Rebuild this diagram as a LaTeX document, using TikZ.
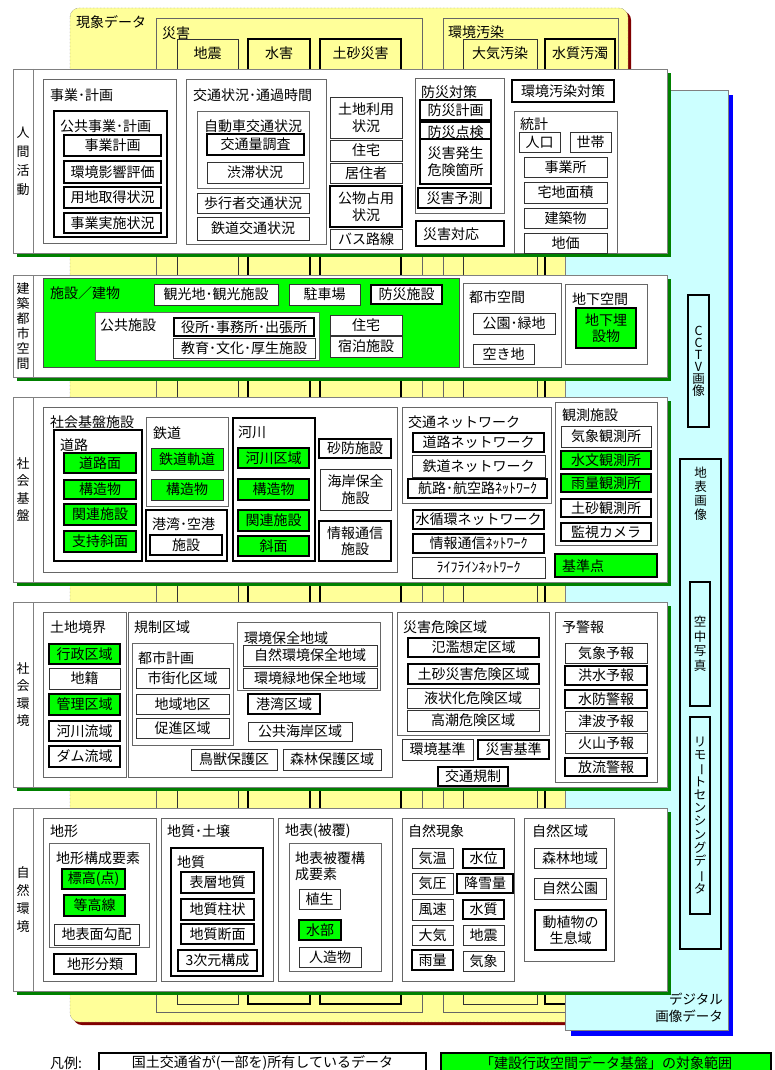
\documentclass[tikz,border=0pt]{standalone}
\usepackage{fontspec}
\setmainfont{Noto Sans CJK JP}
\usepackage{tikz}

\definecolor{kiiro}{HTML}{FFFF99}
\definecolor{mizuiro}{HTML}{CCFFFF}
\definecolor{midori}{HTML}{00FF00}
\definecolor{kage}{HTML}{008000}
\definecolor{akakage}{HTML}{800000}
\definecolor{aokage}{HTML}{0000FF}

\begin{document}
\begin{tikzpicture}[x=1pt, y=-1pt,
    font=\fontsize{14}{16.5}\selectfont,
    panel/.style={draw=gray, fill=white, line width=0.8pt},
    grp/.style={draw=black!60, fill=white, line width=0.8pt},
    grpb/.style={draw=black, fill=white, line width=2.8pt},
    cell/.style={draw=black!80, fill=white, line width=0.9pt},
    cellb/.style={draw=black, fill=white, line width=2.8pt},
    cellg/.style={cell, fill=midori},
    cellbg/.style={cellb, fill=midori},
    lbl/.style={anchor=west, inner sep=0pt},
    tate/.style={align=center, inner sep=0pt}
  ]
  \fill[white] (0,0) rectangle (775,1070);
  \useasboundingbox (0,0) rectangle (775,1070);

  % 現象データ (back layer)
  \fill[akakage, rounded corners=9pt] (73,11) rectangle (631,1025);
  \draw[densely dotted, draw=black!70, fill=kiiro, rounded corners=9pt] (70,8) rectangle (628,1022);
  \node[lbl] (gensho) at (76,22) {現象データ};
  \draw[grp, fill=kiiro] (156,18) rectangle (422,1012);
  \node[lbl] (saigai) at (162,33) {災害};
  \draw[grp, fill=kiiro] (443,18) rectangle (618,1012);
  \node[lbl] (osen) at (448,32) {環境汚染};
  \foreach \xa/\xb/\sty/\txt [count=\i] in {177/238/cell/地震, 248/310/cellb/水害, 320/401/cellb/土砂災害, 463/537/cell/大気汚染, 545/615/cellb/水質汚濁} {
    \draw[\sty, fill=kiiro] (\xa,39) rectangle (\xb,1004);
    \node (gen\i) at ({(\xa+\xb)/2},53) {\txt};
  }

  % デジタル画像データ
  \fill[aokage] (571,95) rectangle (733,1036);
  \draw[draw=gray, fill=mizuiro, line width=0.8pt] (565,90) rectangle (728,1030);
  \draw[cellb, fill=mizuiro] (688,295) rectangle (709,427)
    node[midway, tate, font=\fontsize{12.5}{12}\selectfont] (cctv) {C\\C\\T\\V\\画\\像};
  \draw[cellb, fill=mizuiro, line width=2.2pt] (680,459) rectangle (721,949);
  \node[tate, font=\fontsize{12.5}{14}\selectfont] (chihyo) at (700.5,494) {地\\表\\画\\像};
  \draw[cellb, fill=mizuiro] (690,582) rectangle (710,706)
    node[midway, tate, font=\fontsize{12.5}{14.5}\selectfont] (kuchu) {空\\中\\写\\真};
  \draw[cellb, fill=mizuiro] (690,717) rectangle (710,914)
    node[midway, tate, font=\fontsize{12.5}{13.3}\selectfont] (rimosen)
    {リ\\モ\\\rotatebox[origin=c]{-90}{ー}\\ト\\セ\\ン\\シ\\ン\\グ\\デ\\\rotatebox[origin=c]{-90}{ー}\\タ};
  \node[anchor=east, align=right, inner sep=0pt, font=\fontsize{13.5}{17}\selectfont] (dejitaru) at (723,1008) {デジタル\\画像データ};

  % panels
  \foreach \ya/\yb/\txt/\sk [count=\i] in {69/253/{人\\間\\活\\動}/19, 275/377/{建\\築\\都\\市\\空\\間}/15,
      397/582/{社\\会\\基\\盤}/17.5, 602/787/{社\\会\\環\\境}/17.5, 808/991/{自\\然\\環\\境}/18} {
    \fill[kage] (17,\ya+4) rectangle (671,\yb+4);
    \draw[panel] (13,\ya) rectangle (667,\yb);
    \draw[panel] (33,\ya) -- (33,\yb);
    \node[tate, font=\fontsize{13}{\sk}\selectfont] (bu\i) at (23,{(\ya+\yb)/2}) {\txt};
  }

  % 人間活動
  \draw[grp] (43,79) rectangle (176,243);
  \node[lbl] (jigyo) at (50,95) {事業･計画};
  \draw[grpb] (54,111) rectangle (167,237);
  \node[lbl] (kokyo) at (60,126) {公共事業･計画};
  \foreach \ya/\yb/\txt [count=\i] in {135/156/事業計画, 161/183/環境影響評価, 187/208/用地取得状況, 213/233/事業実施状況}
    \draw[cellb] (64,\ya) rectangle (161,\yb) node[midway] (kj\i) {\txt};
  \draw[grp] (186,79) rectangle (326,244);
  \node[lbl] (kotsu) at (193,95) {交通状況･通過時間};
  \draw[grp] (197,111) rectangle (309,188);
  \node (jidosha) at (253,126) {自動車交通状況};
  \draw[cellb] (207,134) rectangle (304,155) node[midway] (koryo) {交通量調査};
  \draw[cell] (207,162) rectangle (303,183) node[midway] (jutai) {渋滞状況};
  \draw[cell] (197,193) rectangle (309,213) node[midway] (hoko) {歩行者交通状況};
  \draw[cell] (197,217) rectangle (309,240) node[midway] (tetsukotsu) {鉄道交通状況};
  \foreach \ya/\yb/\sty/\txt [count=\i] in {97/138/cell/{土地利用\\状況}, 140/161/cell/住宅, 163/183/cell/居住者,
      186/227/cellb/{公物占用\\状況}, 229/249/cell/バス路線}
    \draw[\sty] (330,\ya) rectangle (402,\yb) node[midway, align=center] (tc\i) {\txt};
  \draw[grp] (415,78) rectangle (504,213);
  \node[lbl] (bosai) at (421,92) {防災対策};
  \draw[cellb] (420,100) rectangle (491,120) node[midway] (bk1) {防災計画};
  \draw[cellb] (420,122) rectangle (491,142) node[midway] (bk2) {防災点検};
  \draw[cellb] (420,139) rectangle (491,184) node[midway, align=center] (bk3) {災害発生\\危険箇所};
  \draw[cellb] (418,188) rectangle (491,208) node[midway] (bk4) {災害予測};
  \draw[cellb] (416,221) rectangle (504,246);
  \node[lbl] (taio) at (423,234) {災害対応};
  \draw[cellb] (512,80) rectangle (614,102) node[midway] (kantai) {環境汚染対策};
  \draw[grp] (514,111) rectangle (617,253);
  \node[lbl] (tokei) at (520,124) {統計};
  \draw[cell] (519,132) rectangle (560,152) node[midway] (jinko) {人口};
  \draw[cell] (570,132) rectangle (611,152) node[midway] (setai) {世帯};
  \foreach \ya/\yb/\txt [count=\i] in {157/177/事業所, 182/203/宅地面積, 208/228/建築物, 233/253/地価}
    \draw[cell] (524,\ya) rectangle (607,\yb) node[midway] (tk\i) {\txt};

  % 建築都市空間
  \draw[draw=black!70, fill=midori, line width=0.8pt] (43,278) rectangle (459,367);
  \node[lbl] (tatemono) at (50,293) {施設／建物};
  \draw[cell] (154,284) rectangle (278,305) node[midway] (kanko) {観光地･観光施設};
  \draw[cell] (289,284) rectangle (360,305) node[midway] (chusha) {駐車場};
  \draw[cellb] (371,285) rectangle (442,304) node[midway] (bshisetsu) {防災施設};
  \draw[grp] (95,312) rectangle (319,360);
  \node[lbl] (koshi) at (100,325) {公共施設};
  \draw[cell] (173,338) rectangle (315,358) node[midway] (kyoiku) {教育･文化･厚生施設};
  \draw[cellb] (174,318) rectangle (314,336) node[midway] (yakusho) {役所･事務所･出張所};
  \draw[cell] (330,315) rectangle (402,335) node[midway] (jutaku) {住宅};
  \draw[cell] (330,336) rectangle (402,357) node[midway] (shukuhaku) {宿泊施設};
  \draw[grp] (463,283) rectangle (561,367);
  \node[lbl] (toshi) at (469,297) {都市空間};
  \draw[cell] (473,313) rectangle (555,334) node[midway] (koen) {公園･緑地};
  \draw[cell] (473,344) rectangle (534,364) node[midway] (akichi) {空き地};
  \draw[grp] (565,284) rectangle (647,364);
  \node[lbl] (chika) at (572,299) {地下空間};
  \draw[cellbg] (576,308) rectangle (636,348) node[midway, align=center] (maisetsu) {地下埋\\設物};

  % 社会基盤
  \draw[grp] (43,407) rectangle (397,572);
  \node[lbl] (kiban) at (50,422) {社会基盤施設};
  \draw[grpb] (54,430) rectangle (142,561);
  \node[lbl] (doro) at (60,445) {道路};
  \foreach \ya/\yb/\txt [count=\i] in {453/473/道路面, 480/499/構造物, 504/525/関連施設, 531/552/支持斜面}
    \draw[cellbg] (64,\ya) rectangle (136,\yb) node[midway] (dr\i) {\txt};
  \draw[grp] (146,417) rectangle (228,506);
  \node[lbl] (tetsudo) at (153,433) {鉄道};
  \draw[cellg] (151,448) rectangle (223,470) node[midway] (td1) {鉄道軌道};
  \draw[cellg] (151,479) rectangle (223,500) node[midway] (td2) {構造物};
  \draw[grpb] (146,510) rectangle (227,561);
  \node[lbl] (kowan) at (152,524) {港湾･空港};
  \draw[cellb] (150,535) rectangle (222,555) node[midway] (kw1) {施設};
  \draw[grpb] (233,418) rectangle (315,561);
  \node[lbl] (kasen) at (238,432) {河川};
  \foreach \ya/\yb/\txt [count=\i] in {448/468/河川区域, 479/500/構造物, 510/531/関連施設, 536/556/斜面}
    \draw[cellbg] (238,\ya) rectangle (309,\yb) node[midway] (ks\i) {\txt};
  \draw[cellb] (319,439) rectangle (391,458) node[midway] (sabo) {砂防施設};
  \draw[cell] (320,469) rectangle (391,510) node[midway, align=center] (kaigan) {海岸保全\\施設};
  \draw[cellb] (319,521) rectangle (391,561) node[midway, align=center] (joho) {情報通信\\施設};
  \draw[grp] (402,407) rectangle (551,503);
  \node[lbl] (network) at (408,422) {交通ネットワーク};
  \draw[cellb] (413,433) rectangle (544,452) node[midway] (nw1) {道路ネットワーク};
  \draw[cell] (412,455) rectangle (545,477) node[midway] (nw2) {鉄道ネットワーク};
  \draw[cellb] (408,479) rectangle (547,498) node[midway] (nw3) {航路･航空路ﾈｯﾄﾜｰｸ};
  \draw[cellb] (413,510) rectangle (544,529) node[midway] (nw4) {水循環ネットワーク};
  \draw[cellb] (413,534) rectangle (544,553) node[midway] (nw5) {情報通信ﾈｯﾄﾜｰｸ};
  \draw[cell] (412,557) rectangle (545,578) node[midway] (nw6) {ﾗｲﾌﾗｲﾝﾈｯﾄﾜｰｸ};
  \draw[grp] (555,402) rectangle (657,545);
  \node[lbl] (kansoku) at (562,415) {観測施設};
  \foreach \ya/\yb/\sty/\txt [count=\i] in {426/447/cell/気象観測所, 451/469/cellbg/水文観測所, 474/492/cellbg/雨量観測所,
      499/517/cellb/土砂観測所, 523/541/cellb/監視カメラ}
    \draw[\sty] (561,\ya) rectangle (651,\yb) node[midway] (ks\i) {\txt};
  \draw[cellbg] (555,554) rectangle (657,577);
  \node[lbl] (kijun) at (562,566) {基準点};

  % 社会環境
  \draw[grp] (43,612) rectangle (126,777);
  \node[lbl] (kyokai) at (50,627) {土地境界};
  \foreach \ya/\yb/\sty/\txt [count=\i] in {644/664/cellbg/行政区域, 668/689/cell/地籍, 694/715/cellbg/管理区域,
      721/741/cellb/河川流域, 746/767/cellb/ダム流域}
    \draw[\sty] (49,\ya) rectangle (120,\yb) node[midway] (kk\i) {\txt};
  \draw[grp] (128,612) rectangle (392,777);
  \node[lbl] (kisei) at (134,627) {規制区域};
  \draw[grp] (132,643) rectangle (233,745);
  \node[lbl] (toshikei) at (138,658) {都市計画};
  \foreach \ya/\yb/\txt [count=\i] in {668/688/市街化区域, 694/714/地域地区, 718/738/促進区域}
    \draw[cell] (136,\ya) rectangle (229,\yb) node[midway] (tk\i) {\txt};
  \draw[grp] (237,622) rectangle (380,690);
  \node[lbl] (hozen) at (244,638) {環境保全地域};
  \draw[cell] (243,645) rectangle (377,666) node[midway] (hz1) {自然環境保全地域};
  \draw[cell] (243,668) rectangle (377,688) node[midway] (hz2) {環境緑地保全地域};
  \draw[cellb] (248,694) rectangle (320,714) node[midway] (kowanku) {港湾区域};
  \draw[cell] (248,722) rectangle (352,741) node[midway] (kaiganku) {公共海岸区域};
  \draw[cell] (191,749) rectangle (277,770) node[midway] (chouju) {鳥獣保護区};
  \draw[cell] (283,749) rectangle (381,770) node[midway] (shinrin) {森林保護区域};
  \draw[grp] (397,612) rectangle (549,735);
  \node[lbl] (kiken) at (403,627) {災害危険区域};
  \draw[cellb] (408,638) rectangle (539,657) node[midway] (kk1) {氾濫想定区域};
  \draw[cellb] (408,664) rectangle (539,684) node[midway] (kk2) {土砂災害危険区域};
  \draw[cell] (407,688) rectangle (539,708) node[midway] (kk3) {液状化危険区域};
  \draw[cell] (407,710) rectangle (539,731) node[midway] (kk4) {高潮危険区域};
  \draw[cell] (402,739) rectangle (473,760) node[midway] (kjkankyo) {環境基準};
  \draw[cellb] (478,740) rectangle (549,759) node[midway] (kjsaigai) {災害基準};
  \draw[cellb] (438,767) rectangle (508,786) node[midway] (kisei2) {交通規制};
  \draw[grp] (555,612) rectangle (657,782);
  \node[lbl] (yokeiho) at (562,627) {予警報};
  \foreach \ya/\yb/\sty/\txt [count=\i] in {643/663/cell/気象予報, 666/685/cellb/洪水予報, 690/708/cellb/水防警報,
      711/731/cell/津波予報, 733/753/cell/火山予報, 758/776/cellb/放流警報}
    \draw[\sty] (565,\ya) rectangle (647,\yb) node[midway] (yk\i) {\txt};

  % 自然環境
  \draw[grp] (43,818) rectangle (156,981);
  \node[lbl] (chikei) at (50,831) {地形};
  \draw[grp] (49,843) rectangle (149,947);
  \node[lbl] (chikeiyoso) at (56,858) {地形構成要素};
  \draw[cellbg] (62,869) rectangle (125,889) node[midway] (hyoko) {標高(点)};
  \draw[cellbg] (64,895) rectangle (125,916) node[midway] (tokosen) {等高線};
  \draw[cell] (54,924) rectangle (139,945) node[midway] (kobai) {地表面勾配};
  \draw[cellb] (54,954) rectangle (136,974) node[midway] (bunrui) {地形分類};
  \draw[grp] (161,818) rectangle (273,981);
  \node[lbl] (dojo) at (167,831) {地質･土壌};
  \draw[grpb] (171,848) rectangle (263,976);
  \node[lbl] (chishitsu) at (177,862) {地質};
  \foreach \ya/\yb/\txt [count=\i] in {872/893/表層地質, 899/920/地質柱状, 924/944/地質断面}
    \draw[cellb] (181,\ya) rectangle (254,\yb) node[midway] (cs\i) {\txt};
  \draw[cellb] (178,950) rectangle (257,971) node[midway] (sanjigen) {3次元構成};
  \draw[grp] (278,818) rectangle (392,981);
  \node[lbl] (hifuku) at (285,831) {地表(被覆)};
  \draw[grp] (289,843) rectangle (381,971);
  \node[lbl, align=left] (hifukuyoso) at (295,866) {地表被覆構\\成要素};
  \draw[cell] (299,889) rectangle (340,909) node[midway] (shokusei) {植生};
  \draw[cellbg] (299,920) rectangle (341,940) node[midway] (suibu) {水部};
  \draw[cell] (299,947) rectangle (361,967) node[midway] (jinzo) {人造物};
  \draw[grp] (402,818) rectangle (514,981);
  \node[lbl] (genshou) at (408,831) {自然現象};
  \foreach \ya/\yb/\sty/\txt [count=\i] in {848/868/cell/気温, 873/894/cell/気圧, 899/920/cell/風速, 925/945/cell/大気, 950/970/cellb/雨量}
    \draw[\sty] (412,\ya) rectangle (453,\yb) node[midway] (sg\i) {\txt};
  \draw[cellb] (463,849) rectangle (504,868) node[midway] (sui) {水位};
  \draw[cellb] (457,874) rectangle (513,893) node[midway] (kosetsu) {降雪量};
  \draw[cellb] (463,900) rectangle (504,919) node[midway] (suishitsu) {水質};
  \draw[cell] (463,925) rectangle (504,945) node[midway] (jishin2) {地震};
  \draw[cell] (463,951) rectangle (504,971) node[midway] (kisho) {気象};
  \draw[grp] (524,818) rectangle (614,961);
  \node[lbl] (shizenku) at (532,831) {自然区域};
  \draw[cell] (534,848) rectangle (606,868) node[midway] (shinrinchi) {森林地域};
  \draw[cell] (534,878) rectangle (606,899) node[midway] (koen2) {自然公園};
  \draw[cellb] (535,910) rectangle (606,950) node[midway, align=center] (seisoku) {動植物の\\生息域};

  % 凡例
  \node[lbl] (hanrei) at (50,1063) {凡例:};
  \draw[cellb] (99,1053) rectangle (426,1073) node[midway] (lg1) {国土交通省が(一部を)所有しているデータ};
  \draw[cellbg] (441,1053) rectangle (771,1073) node[midway] (lg2) {「建設行政空間データ基盤」の対象範囲};
\end{tikzpicture}
\end{document}
